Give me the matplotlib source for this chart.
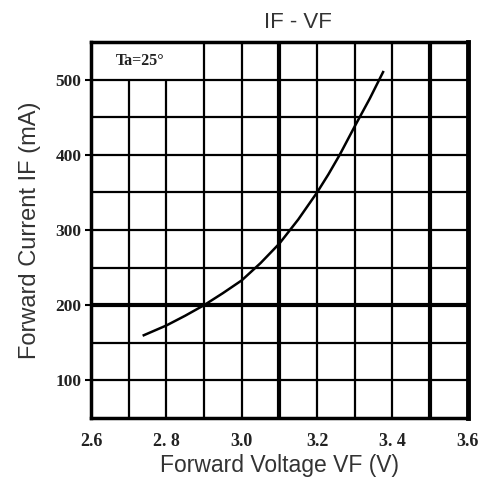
import numpy as np
import matplotlib
matplotlib.use("Agg")
import matplotlib.pyplot as plt

# IF-VF curve
vf = [2.74, 2.80, 2.85, 2.90, 2.95, 3.00, 3.05, 3.10, 3.15, 3.20, 3.23, 3.26, 3.30, 3.34, 3.375]
i_f = [160, 173, 186, 200, 216, 233, 256, 282, 314, 350, 374, 400, 438, 475, 510]

x_ticks = [2.6, 2.8, 3.0, 3.2, 3.4, 3.6]
x_labels = ["2.6", "2. 8", "3.0", "3.2", "3. 4", "3.6"]
y_ticks = [100, 200, 300, 400, 500]
y_labels = ["100", "200", "300", "400", "500"]
x_grid = [2.7, 2.8, 2.9, 3.0, 3.1, 3.2, 3.3, 3.4, 3.5]
y_grid = [100, 150, 200, 250, 300, 350, 400, 450, 500]
thick_x = [3.1, 3.5]
thick_y = [200]

fig = plt.figure(figsize=(4.93, 4.86), dpi=100)
ax = fig.add_axes([0.1846, 0.14, 0.949 - 0.1846, 0.9136 - 0.14])
ax.set_xlim(2.6, 3.6)
ax.set_ylim(50, 550)

# grid, leaving the top-left cell free for the Ta label
for x in x_grid:
    lw = 3.0 if x in thick_x else 1.6
    top = 500 if x < 2.85 else 550
    ax.vlines(x, 50, top, color="black", lw=lw, zorder=1)
for y in y_grid:
    lw = 3.0 if y in thick_y else 1.6
    ax.hlines(y, 2.6, 3.6, color="black", lw=lw, zorder=1)

ax.plot(vf, i_f, color="black", lw=1.8, zorder=3)

ax.text(2.665, 525, "Ta=25°", fontsize=11.5, family="Liberation Serif",
        fontweight="bold", va="center", ha="left", color="#222222")

for side in ["left", "bottom", "top"]:
    ax.spines[side].set_linewidth(2.5)
ax.spines["right"].set_linewidth(3.5)

ax.set_xticks(x_ticks)
ax.set_xticklabels(x_labels, family="Liberation Serif", fontweight="bold",
                   fontsize=13, color="#222222")
ax.set_yticks(y_ticks)
ax.set_yticklabels(y_labels, family="Liberation Serif", fontweight="bold",
                   fontsize=12.5, color="#222222")
ax.tick_params(axis="x", length=0, pad=11)
ax.tick_params(axis="y", length=4, width=1.5, pad=3)

ax.set_xlabel("Forward Voltage VF (V)", family="Liberation Sans",
              fontsize=16.5, color="#333333", labelpad=3)
ax.set_ylabel("Forward Current IF (mA)", family="Liberation Sans",
              fontsize=17, color="#333333", labelpad=10)
ax.set_title("IF - VF", family="Liberation Sans", fontsize=16,
             color="#333333", pad=10, x=0.55)

fig.savefig("out.png", dpi=100)
